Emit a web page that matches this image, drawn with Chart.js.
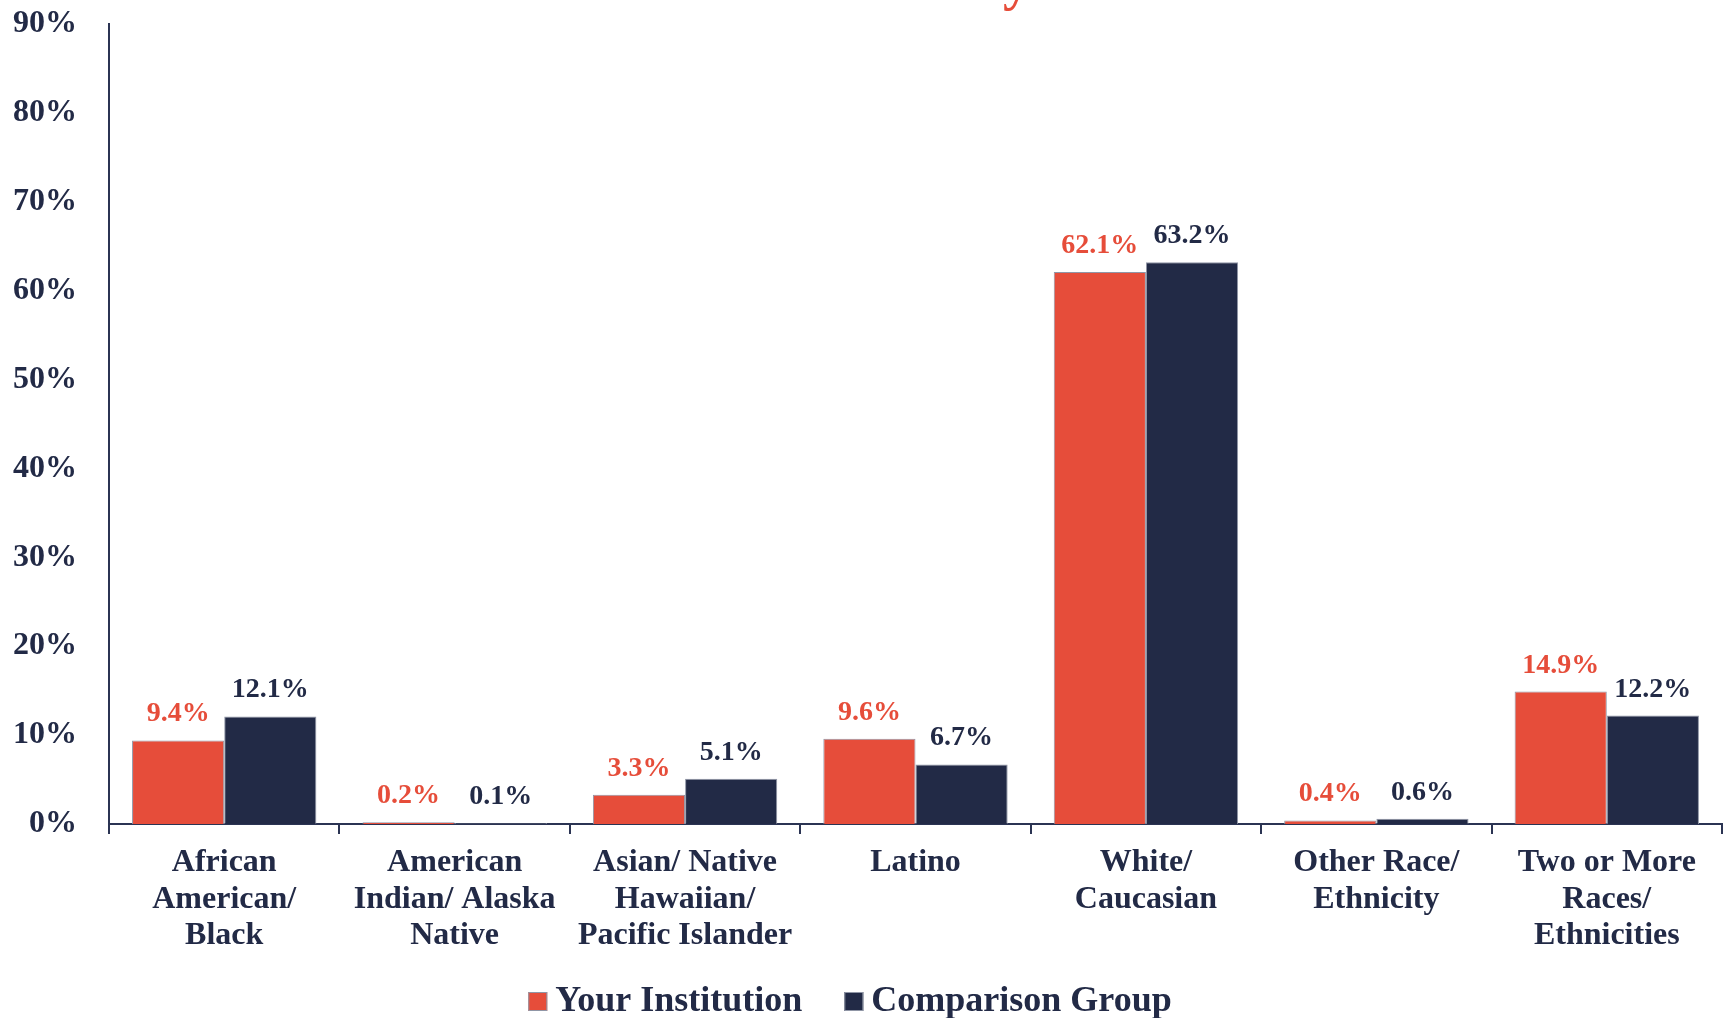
<!DOCTYPE html>
<html>
<head>
<meta charset="utf-8">
<script src="https://cdn.jsdelivr.net/npm/chart.js@4/dist/chart.umd.min.js"></script>
<style>
  html, body { margin: 0; padding: 0; background: #ffffff; }
  #wrap { width: 1727px; height: 1018px; position: relative; }
</style>
</head>
<body>
<div id="wrap"><canvas id="c"></canvas></div>
<script>
const titleText = "Race/Ethnicity";
const categories = [
  ["African", "American/", "Black"],
  ["American", "Indian/ Alaska", "Native"],
  ["Asian/ Native", "Hawaiian/", "Pacific Islander"],
  "Latino",
  ["White/", "Caucasian"],
  ["Other Race/", "Ethnicity"],
  ["Two or More", "Races/", "Ethnicities"]
];
const seriesNames = ["Your Institution", "Comparison Group"];
const yourInstitution = [9.4, 0.2, 3.3, 9.6, 62.1, 0.4, 14.9];
const comparisonGroup = [12.1, 0.1, 5.1, 6.7, 63.2, 0.6, 12.2];
const yTickLabels = ["0%", "10%", "20%", "30%", "40%", "50%", "60%", "70%", "80%", "90%"];

const RED = "#E64D3A";
const NAVY = "#222A46";
const EDGE = "#9096a6";
const FONT = "'Liberation Serif', 'DejaVu Serif', serif";

const valueLabels = {
  id: "valueLabels",
  afterDatasetsDraw(chart) {
    const ctx = chart.ctx;
    ctx.save();
    ctx.font = "bold 28px " + FONT;
    ctx.textAlign = "center";
    ctx.textBaseline = "alphabetic";
    chart.data.datasets.forEach((ds, di) => {
      const meta = chart.getDatasetMeta(di);
      ctx.fillStyle = di === 0 ? RED : NAVY;
      meta.data.forEach((el, i) => {
        ctx.fillText(ds.data[i].toFixed(1) + "%", el.x, el.y - 19);
      });
    });
    ctx.restore();
  }
};

const clippedTitle = {
  id: "clippedTitle",
  afterDraw(chart) {
    const ctx = chart.ctx;
    ctx.save();
    ctx.font = "bold 54px " + FONT;
    ctx.fillStyle = RED;
    ctx.textAlign = "right";
    ctx.textBaseline = "alphabetic";
    const m = ctx.measureText("y");
    const descent = m.actualBoundingBoxDescent || 12;
    ctx.fillText(titleText, 1030, Math.min(-1, 11 - descent));
    ctx.restore();
  }
};

const customLegend = {
  id: "customLegend",
  afterDraw(chart) {
    const ctx = chart.ctx;
    ctx.save();
    ctx.font = "bold 36px " + FONT;
    ctx.textBaseline = "alphabetic";
    ctx.textAlign = "left";
    const box = 19, gapText = 8, gapItem = 42;
    const items = chart.data.datasets.map(ds => ({
      text: ds.label, color: ds.backgroundColor, w: ctx.measureText(ds.label).width
    }));
    let total = 0;
    items.forEach((it, i) => { total += box + gapText + it.w + (i ? gapItem : 0); });
    let x = 850 - total / 2;
    const baseline = 1011;
    items.forEach((it, i) => {
      if (i) x += gapItem;
      ctx.fillStyle = it.color;
      ctx.fillRect(x, baseline - box, box, box);
      ctx.strokeStyle = EDGE;
      ctx.lineWidth = 1;
      ctx.strokeRect(x + 0.5, baseline - box + 0.5, box - 1, box - 1);
      x += box + gapText;
      ctx.fillStyle = NAVY;
      ctx.fillText(it.text, x, baseline);
      x += it.w;
    });
    ctx.restore();
  }
};

new Chart(document.getElementById("c"), {
  type: "bar",
  data: {
    labels: categories,
    datasets: [
      {
        label: seriesNames[0],
        data: yourInstitution,
        backgroundColor: RED,
        borderColor: EDGE,
        borderWidth: 1,
        categoryPercentage: 0.8,
        barPercentage: 1.0
      },
      {
        label: seriesNames[1],
        data: comparisonGroup,
        backgroundColor: NAVY,
        borderColor: EDGE,
        borderWidth: 1,
        categoryPercentage: 0.8,
        barPercentage: 1.0
      }
    ]
  },
  options: {
    responsive: true,
    maintainAspectRatio: false,
    animation: false,
    layout: { padding: { top: 24, right: 5, bottom: 54, left: 0 } },
    plugins: {
      legend: { display: false },
      tooltip: { enabled: false },
      title: { display: false }
    },
    scales: {
      x: {
        offset: true,
        grid: {
          display: true,
          offset: true,
          drawOnChartArea: false,
          drawTicks: true,
          tickLength: 10,
          color: "#2b3453",
          lineWidth: 2
        },
        border: { display: true, color: "#2b3453", width: 2 },
        ticks: {
          color: NAVY,
          font: { family: FONT, size: 32, weight: "bold", lineHeight: 1.13 },
          padding: 11,
          maxRotation: 0,
          autoSkip: false
        },
        afterFit(scale) { scale.height = 140; }
      },
      y: {
        min: 0,
        max: 90,
        ticks: {
          stepSize: 10,
          color: NAVY,
          font: { family: FONT, size: 32, weight: "bold" },
          padding: 0,
          callback: (v) => yTickLabels[Math.round(v / 10)]
        },
        grid: { display: false, drawTicks: true, tickLength: 32 },
        border: { display: true, color: "#2b3453", width: 2 },
        afterFit(scale) { scale.width = 109; }
      }
    }
  },
  plugins: [valueLabels, clippedTitle, customLegend]
});
</script>
</body>
</html>
